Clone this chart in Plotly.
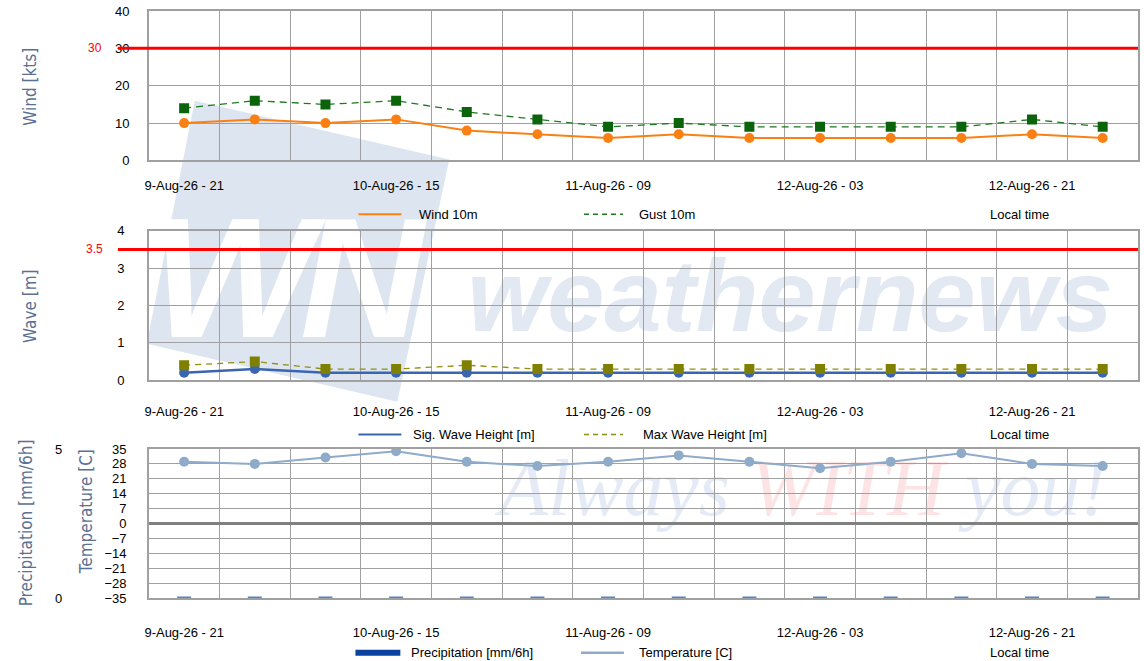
import base64
import plotly.graph_objects as go

# forecast steps (6 hourly, local time)
times = ['9-Aug-26 - 21', '10-Aug-26 - 03', '10-Aug-26 - 09', '10-Aug-26 - 15',
         '10-Aug-26 - 21', '11-Aug-26 - 03', '11-Aug-26 - 09', '11-Aug-26 - 15',
         '11-Aug-26 - 21', '12-Aug-26 - 03', '12-Aug-26 - 09', '12-Aug-26 - 15',
         '12-Aug-26 - 21', '13-Aug-26 - 03']

wind_10m = [10, 11, 10, 11, 8, 7, 6, 7, 6, 6, 6, 6, 7, 6]
gust_10m = [14, 16, 15, 16, 13, 11, 9, 10, 9, 9, 9, 9, 11, 9]
sig_wave = [0.2, 0.3, 0.2, 0.2, 0.2, 0.2, 0.2, 0.2, 0.2, 0.2, 0.2, 0.2, 0.2, 0.2]
max_wave = [0.4, 0.5, 0.3, 0.3, 0.4, 0.3, 0.3, 0.3, 0.3, 0.3, 0.3, 0.3, 0.3, 0.3]
precip = [0, 0, 0, 0, 0, 0, 0, 0, 0, 0, 0, 0, 0, 0]
temperature = [29, 28, 31, 34, 29, 27, 29, 32, 29, 26, 29, 33, 28, 27]

wind_limit = 30
wave_limit = 3.5

xs = list(range(len(times)))
label_idx = xs[::3]

# page geometry (px) -> paper coords
W, H = 1144, 661
L, R, T, B = 50, 4, 9, 63
PW, PH = W - L - R, H - T - B


def fx(px):
    return (px - L) / PW


def fy(py):
    return (H - B - py) / PH


FONT = "Liberation Sans, Arial, sans-serif"
NARROW = "Liberation Sans Narrow, DejaVu Sans Condensed, Arial Narrow, sans-serif"
GRID = "#a0a0a0"
ORANGE = "#fb8014"
GREEN = "#0b630b"
BLUE = "#3a66b0"
OLIVE = "#808000"
TEMP = "#8eabca"
TITLE = "#5b7092"

fig = go.Figure()

fig.add_trace(go.Scatter(x=xs, y=gust_10m, mode="lines+markers",
                         line=dict(color="#1e7a1e", width=1.3, dash="7px,5px"),
                         marker=dict(symbol="square", size=10, color=GREEN),
                         xaxis="x", yaxis="y", name="Gust 10m"))
fig.add_trace(go.Scatter(x=xs, y=wind_10m, mode="lines+markers",
                         line=dict(color=ORANGE, width=2),
                         marker=dict(size=10, color=ORANGE),
                         xaxis="x", yaxis="y", name="Wind 10m"))
fig.add_trace(go.Scatter(x=xs, y=sig_wave, mode="lines+markers",
                         line=dict(color=BLUE, width=2.5),
                         marker=dict(size=10, color=BLUE),
                         xaxis="x2", yaxis="y2", name="Sig. Wave Height [m]"))
fig.add_trace(go.Scatter(x=xs, y=max_wave, mode="lines+markers",
                         line=dict(color="#8f8f10", width=1.3, dash="6px,5px"),
                         marker=dict(symbol="square", size=10, color=OLIVE),
                         xaxis="x2", yaxis="y2", name="Max Wave Height [m]"))
fig.add_trace(go.Scatter(x=xs, y=temperature, mode="lines+markers",
                         line=dict(color=TEMP, width=2),
                         marker=dict(size=10, color=TEMP),
                         xaxis="x3", yaxis="y3", name="Temperature [C]"))
fig.add_trace(go.Scatter(x=xs, y=precip, mode="markers", cliponaxis=False,
                         marker=dict(symbol="line-ew", size=10,
                                     line=dict(color="#4f86cc", width=3)),
                         xaxis="x3", yaxis="y4", name="Precipitation [mm/6h]"))


def xaxis(anchor, standoff):
    return dict(anchor=anchor, domain=[fx(149), 1], range=[-0.5, len(times) - 0.5],
                tickmode="array", tickvals=label_idx,
                ticktext=[times[i] for i in label_idx],
                showgrid=False, zeroline=False, ticks="",
                ticklabelstandoff=standoff,
                minor=dict(tickmode="linear", tick0=-0.5, dtick=1, showgrid=True,
                           gridcolor=GRID, gridwidth=1, ticks=""),
                showline=True, mirror=True, linecolor=GRID, linewidth=1.5,
                tickfont=dict(family=FONT, size=13, color="black"))


def yaxis(anchor, domain, rng, dtick, standoff):
    return dict(anchor=anchor, domain=domain, range=rng, dtick=dtick, tick0=0,
                showgrid=True, gridcolor=GRID, gridwidth=1, zeroline=False,
                ticks="", ticklabelstandoff=standoff,
                showline=True, mirror=True, linecolor=GRID, linewidth=1.5,
                tickfont=dict(family=FONT, size=13, color="black"))


fig.update_layout(
    width=W, height=H,
    margin=dict(l=L, r=R, t=T, b=B),
    paper_bgcolor="white", plot_bgcolor="rgba(0,0,0,0)",
    showlegend=False,
    font=dict(family=FONT, size=13, color="black"),
    xaxis=xaxis("y", 12),
    xaxis2=xaxis("y2", 18),
    xaxis3=xaxis("y3", 22),
    yaxis=yaxis("x", [fy(159), 1], [0, 40], 10, 15),
    yaxis2=yaxis("x2", [fy(379.5), fy(229.5)], [0, 4], 1, 20),
    yaxis3=yaxis("x3", [0, fy(448.5)], [-35, 35], 7, 18),
    yaxis4=dict(overlaying="y3", anchor="free", position=0, side="right",
                range=[0, 5], tickmode="array", tickvals=[0, 5],
                showgrid=False, zeroline=False, showline=False, ticks="",
                ticklabelstandoff=4,
                tickfont=dict(family=FONT, size=13, color="black")),
)
fig.update_yaxes(selector=dict(anchor="x3"), zeroline=True,
                 zerolinecolor="#808080", zerolinewidth=3)

# threshold lines with red labels
for val, yref in [(wind_limit, "y"), (wave_limit, "y2")]:
    fig.add_shape(type="line", xref="paper", yref=yref, x0=fx(118), x1=1,
                  y0=val, y1=val, line=dict(color="#ff0000", width=3))
    fig.add_annotation(xref="paper", yref=yref, x=fx(95), y=val, text=str(val),
                       xanchor="center", yanchor="middle", showarrow=False,
                       font=dict(family=FONT, size=12, color="#ff0000"))

# axis titles
for text, px, py in [("Wind [kts]", 30, 85), ("Wave [m]", 30, 305),
                     ("Precipitation [mm/6h]", 26, 523), ("Temperature [C]", 86, 511)]:
    fig.add_annotation(xref="paper", yref="paper", x=fx(px), y=fy(py), text=text,
                       textangle=-90, xanchor="center", yanchor="middle",
                       showarrow=False, font=dict(family=NARROW, size=17, color=TITLE))

# legend rows drawn by hand
legend_rows = [
    (213, [("Wind 10m", ORANGE, 2, "solid", 359, 402, 418),
           ("Gust 10m", "#1e7a1e", 1.5, "5px,4px", 585, 624, 638)]),
    (434, [("Sig. Wave Height [m]", BLUE, 2, "solid", 359, 402, 412),
           ("Max Wave Height [m]", "#8f8f10", 1.5, "5px,4px", 585, 624, 642)]),
    (653, [("Precipitation [mm/6h]", "#0a44a0", 6, "solid", 356, 401, 410),
           ("Temperature [C]", TEMP, 2.5, "solid", 582, 625, 638)]),
]
for py, items in legend_rows:
    for text, color, width, dash, x0, x1, tx in items:
        fig.add_shape(type="line", xref="paper", yref="paper", x0=fx(x0), x1=fx(x1),
                      y0=fy(py), y1=fy(py), line=dict(color=color, width=width, dash=dash))
        fig.add_annotation(xref="paper", yref="paper", x=fx(tx), y=fy(py), text=text,
                           xanchor="left", yanchor="middle", showarrow=False,
                           font=dict(family=FONT, size=13))
    fig.add_annotation(xref="paper", yref="paper", x=fx(990), y=fy(py), text="Local time",
                       xanchor="left", yanchor="middle", showarrow=False,
                       font=dict(family=FONT, size=13))

# faint company watermark behind the grid
svg = f"""<svg xmlns='http://www.w3.org/2000/svg' width='{W}' height='{H}' viewBox='0 0 {W} {H}'>
<polygon points='195,99 450,158 398,401 147,343' fill='#dde5f0'/>
<text x='152' y='336' font-family='Liberation Sans' font-weight='bold' font-style='italic'
 font-size='172' letter-spacing='-14' fill='white'>WN</text>
<text x='468' y='330' font-family='Liberation Sans' font-weight='bold' font-style='italic'
 font-size='103' fill='#e2e9f3'>weathernews</text>
<text x='500' y='515' font-family='Liberation Serif' font-style='italic' font-size='80'>
<tspan fill='#e5ebf6'>Always </tspan><tspan fill='#fde3e3'>WITH</tspan><tspan fill='#e5ebf6'> you!</tspan></text>
</svg>"""
fig.add_layout_image(source="data:image/svg+xml;base64," + base64.b64encode(svg.encode()).decode(),
                     xref="paper", yref="paper", x=fx(0), y=fy(0),
                     sizex=W / PW, sizey=H / PH, xanchor="left", yanchor="top",
                     sizing="stretch", layer="below")

fig.write_html("out.html", config={"displayModeBar": False},
               post_script="document.body.style.margin='0';")
